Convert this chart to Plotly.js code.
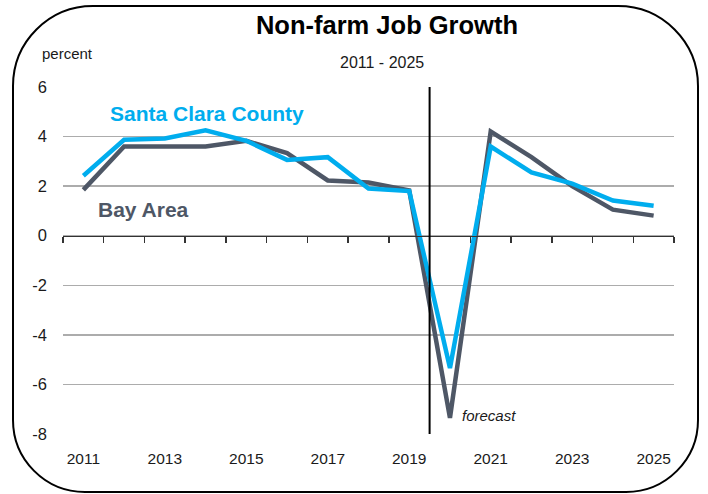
<!DOCTYPE html>
<html>
<head>
<meta charset="utf-8">
<script src="https://cdn.plot.ly/plotly-3.0.1.min.js"></script>
<style>
  html, body { margin: 0; padding: 0; background: #ffffff; }
  #chart { width: 708px; height: 494px; }
</style>
</head>
<body>
<div id="chart"></div>
<script>
// ---- data ----
const years = [2011, 2012, 2013, 2014, 2015, 2016, 2017, 2018, 2019, 2020, 2021, 2022, 2023, 2024, 2025];
const bayArea = [1.85, 3.6, 3.6, 3.6, 3.83, 3.33, 2.23, 2.15, 1.83, -7.35, 4.2, 3.17, 2.0, 1.05, 0.81];
const santaClara = [2.42, 3.87, 3.92, 4.25, 3.83, 3.06, 3.17, 1.9, 1.8, -5.34, 3.6, 2.55, 2.1, 1.42, 1.21];
const xTickLabels = ['2011', '2013', '2015', '2017', '2019', '2021', '2023', '2025'];
const xTickValues = [2011, 2013, 2015, 2017, 2019, 2021, 2023, 2025];
const forecastStart = 2019.5;

// ---- layout geometry (pixels) ----
const W = 708, H = 494;
const M = { l: 63, r: 34, t: 87, b: 60 };
const PW = W - M.l - M.r, PH = H - M.t - M.b;
const px = (x) => (x - M.l) / PW;
const py = (y) => (H - M.b - y) / PH;

const FONT = '"Liberation Sans Narrow", "Arial Narrow", "Liberation Sans", Arial, sans-serif';
const CYAN = '#00ADEE';
const SLATE = '#4E5766';

const xMin = years[0] - 0.5, xMax = years[years.length - 1] + 0.5;
const boundaries = [];
for (let v = xMin; v <= xMax + 1e-9; v += 1) boundaries.push(v);

// rounded frame path in paper coordinates
function roundedFrame(x0, y0, x1, y1, rTop, rBot) {
  const k = 0.5523;
  const P = (x, y) => px(x).toFixed(5) + ',' + py(y).toFixed(5);
  return 'M' + P(x0 + rTop, y0) +
    ' L' + P(x1 - rTop, y0) +
    ' C' + P(x1 - rTop + k * rTop, y0) + ' ' + P(x1, y0 + rTop - k * rTop) + ' ' + P(x1, y0 + rTop) +
    ' L' + P(x1, y1 - rBot) +
    ' C' + P(x1, y1 - rBot + k * rBot) + ' ' + P(x1 - rBot + k * rBot, y1) + ' ' + P(x1 - rBot, y1) +
    ' L' + P(x0 + rBot, y1) +
    ' C' + P(x0 + rBot - k * rBot, y1) + ' ' + P(x0, y1 - rBot + k * rBot) + ' ' + P(x0, y1 - rBot) +
    ' L' + P(x0, y0 + rTop) +
    ' C' + P(x0, y0 + rTop - k * rTop) + ' ' + P(x0 + rTop - k * rTop, y0) + ' ' + P(x0 + rTop, y0) + ' Z';
}

const traces = [
  {
    x: years, y: bayArea, type: 'scatter', mode: 'lines', name: 'Bay Area',
    line: { color: SLATE, width: 4.5 }, hoverinfo: 'skip'
  },
  {
    x: years, y: santaClara, type: 'scatter', mode: 'lines', name: 'Santa Clara County',
    line: { color: CYAN, width: 4.5 }, hoverinfo: 'skip'
  },
  {
    x: [], y: [], type: 'scatter', mode: 'lines', xaxis: 'x2', yaxis: 'y',
    showlegend: false, hoverinfo: 'skip'
  }
];

const layout = {
  width: W, height: H,
  margin: M,
  paper_bgcolor: '#ffffff', plot_bgcolor: '#ffffff',
  showlegend: false,
  font: { family: FONT, size: 16, color: '#1a1a1a' },
  title: {
    text: '<b>Non-farm Job Growth</b>',
    font: { family: FONT, size: 25.5, color: '#000000' },
    xref: 'container', yref: 'container',
    x: 387 / W, y: 1 - 25 / H, xanchor: 'center', yanchor: 'middle'
  },
  xaxis: {
    range: [xMin, xMax],
    tickmode: 'array', tickvals: xTickValues, ticktext: xTickLabels,
    ticks: '', showgrid: false, zeroline: false, showline: false,
    tickfont: { family: FONT, size: 15.5, color: '#1a1a1a' },
    ticklabelstandoff: 13,
    fixedrange: true
  },
  xaxis2: {
    overlaying: 'x', anchor: 'free', position: (0 - (-8)) / (6 - (-8)),
    range: [xMin, xMax],
    tickmode: 'array', tickvals: boundaries,
    ticks: 'outside', ticklen: 6, tickwidth: 1.5, tickcolor: '#333333',
    showticklabels: false, showgrid: false, zeroline: false,
    showline: true, linecolor: '#333333', linewidth: 1.5,
    side: 'bottom', fixedrange: true
  },
  yaxis: {
    range: [-8, 6], tickmode: 'array', tickvals: [-8, -6, -4, -2, 0, 2, 4, 6],
    ticktext: ['-8', '-6', '-4', '-2', '0', '2', '4', '6'],
    ticks: '', showgrid: true, gridcolor: '#acacac', gridwidth: 1.5,
    zeroline: false, showline: false,
    tickfont: { family: FONT, size: 16.5, color: '#1a1a1a' },
    ticklabelstandoff: 15,
    fixedrange: true
  },
  shapes: [
    {
      type: 'line', xref: 'x', yref: 'y',
      x0: forecastStart, x1: forecastStart, y0: -8, y1: 6,
      line: { color: '#000000', width: 2 }
    },
    {
      type: 'path', xref: 'paper', yref: 'paper',
      path: roundedFrame(13, 6, 698, 492, 80, 72),
      line: { color: '#000000', width: 2 }, fillcolor: 'rgba(0,0,0,0)', layer: 'above'
    }
  ],
  annotations: [
    {
      text: '2011 - 2025', xref: 'paper', yref: 'paper',
      x: px(382), y: py(62), xanchor: 'center', yanchor: 'middle',
      showarrow: false, font: { family: FONT, size: 16, color: '#1a1a1a' }
    },
    {
      text: 'percent', xref: 'paper', yref: 'paper',
      x: px(40), y: py(53), xanchor: 'left', yanchor: 'middle',
      showarrow: false, font: { family: FONT, size: 15, color: '#1a1a1a' }
    },
    {
      text: '<b>Santa Clara County</b>', xref: 'x', yref: 'y',
      x: 2011.6, y: 4.95, xanchor: 'left', yanchor: 'middle',
      showarrow: false, font: { family: 'Liberation Sans, Arial, sans-serif', size: 21, color: CYAN }
    },
    {
      text: '<b>Bay Area</b>', xref: 'x', yref: 'y',
      x: 2011.32, y: 1.05, xanchor: 'left', yanchor: 'middle',
      showarrow: false, font: { family: 'Liberation Sans, Arial, sans-serif', size: 21, color: SLATE }
    },
    {
      text: '<i>forecast</i>', xref: 'x', yref: 'y',
      x: 2020.25, y: -7.25, xanchor: 'left', yanchor: 'middle',
      showarrow: false, font: { family: FONT, size: 15, color: '#1a1a1a' }
    }
  ]
};

Plotly.newPlot('chart', traces, layout, { staticPlot: true, displayModeBar: false });
</script>
</body>
</html>
